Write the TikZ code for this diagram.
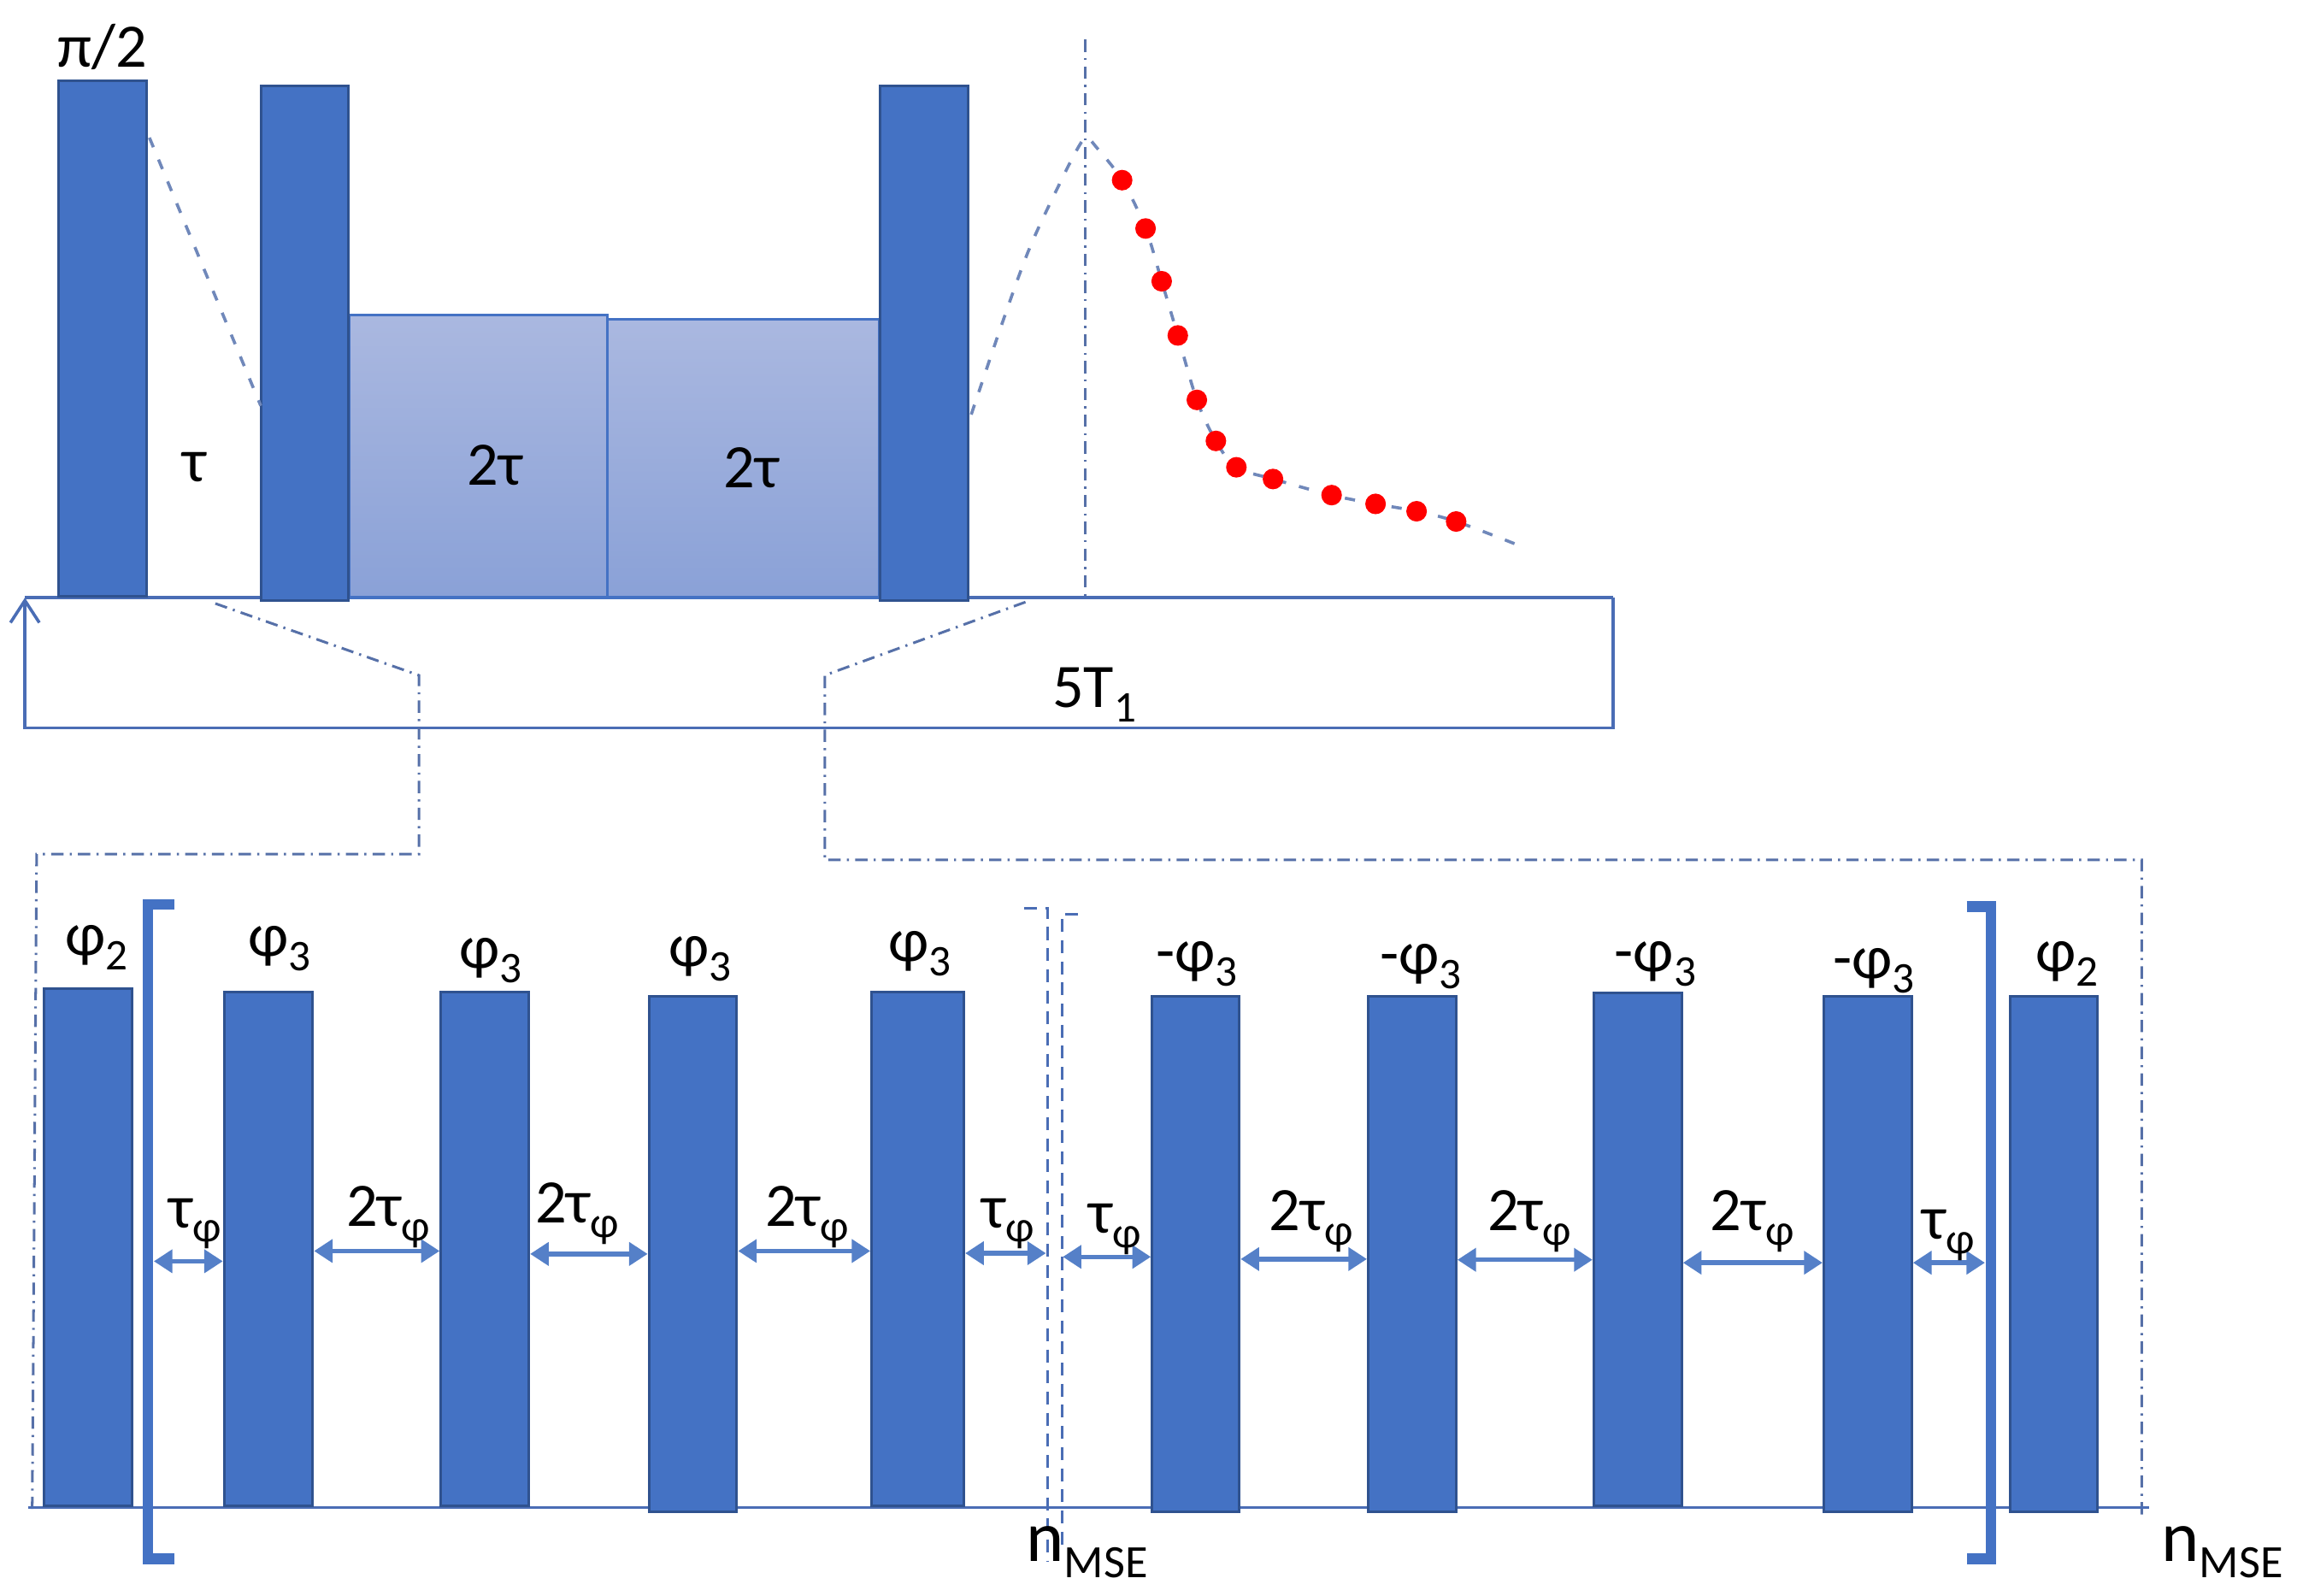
\documentclass[tikz,border=0pt]{standalone}
\usepackage{fontspec}
\setmainfont{Carlito}
\usetikzlibrary{arrows.meta,fit,calc}
\definecolor{pblue}{HTML}{4472C4}
\definecolor{pedge}{HTML}{2F528F}
\definecolor{ltop}{HTML}{AAB8E0}
\definecolor{lbot}{HTML}{8AA1D7}
\definecolor{dashc}{HTML}{7088BA}
\definecolor{ddc}{HTML}{5670A8}
\definecolor{arrc}{HTML}{5580C8}
\definecolor{framec}{HTML}{4A6DB5}
\newcommand\lsub[1]{\raisebox{-2.8pt}{\fontsize{8.5}{9}\selectfont #1}}
\newcommand\lsubb[1]{\raisebox{-3.1pt}{\fontsize{9}{10}\selectfont #1}}
\begin{document}
\begin{tikzpicture}[x=0.01cm,y=-0.01cm,
  pulse/.style={draw=pedge, fill=pblue, line width=0.5pt, inner sep=0pt},
  lightbox/.style={draw=pblue, line width=0.6pt, top color=ltop, bottom color=lbot, inner sep=0pt},
  lab/.style={font=\fontsize{12}{14}\selectfont, inner sep=0pt, anchor=base},
  biglab/.style={font=\fontsize{14}{16}\selectfont, inner sep=0pt, anchor=base},
  sig/.style={draw=dashc, line width=0.6pt, dash pattern=on 2pt off 2.6pt},
  zoomline/.style={draw=ddc, line width=0.5pt, dash pattern=on 2.4pt off 1.2pt on 0.4pt off 1.2pt},
  axisline/.style={draw=framec, line width=0.6pt},
  dim/.style={draw=arrc, line width=0.9pt, {Triangle[length=3.6pt,width=4.4pt]}-{Triangle[length=3.6pt,width=4.4pt]}},
  brk/.style={draw=pblue, line width=2.1pt, line join=miter, line cap=butt},
  sepline/.style={draw=framec, line width=0.55pt, dash pattern=on 2.5pt off 1.6pt},
]
\useasboundingbox (0,0) rectangle (1568,1089);

% ---------- top section ----------
\draw[axisline] (17,408) -- (1101,408);
\draw[axisline, -{Straight Barb[length=4.3pt,width=5.6pt]}] (1101,408) -- (1101,497) -- (17,497) -- (17,408);

\draw[zoomline] (741,27) -- (741,411);
\draw[zoomline] (147,412) -- (286,461) -- (286,583) -- (25,583) -- (22,1030);
\draw[zoomline] (700,411) -- (563,461) -- (563,587) -- (1462,587) -- (1462,1037);

\node[lightbox, fit={(238,215) (414.5,408)}] (b1) {};
\node[lightbox, fit={(414.5,218) (600.5,408)}] (b2) {};
\node[pulse, fit={(40,55) (100,407)}] (t0) {};
\node[pulse, fit={(178,58.5) (238,410)}] (t1) {};
\node[pulse, fit={(600.5,58.5) (661,410)}] (t2) {};

\draw[sig] (102,94) -- (178,277);
\draw[sig] plot[smooth, tension=0.55] coordinates {(663,283) (684,221) (703,169) (725,122) (737,99) (742,94) (748,100) (766,123) (782,156) (793,192) (804,229) (817,273) (830,301) (844,319) (869,327) (909,338) (939,344) (967,349) (994,356) (1036,372)};

\foreach \p in {(766,123),(782,156),(793,192),(804,229),(817,273),(830,301),(844,319),(869,327),(909,338),(939,344),(967,349),(994,356)}
  \fill[red] \p circle[radius=2pt];

\node[lab] (lpi) at (70,46) {π/2};
\node[lab] (ltau) at (133,329) {τ};
\node[lab] (l2ta) at (338,331) {2τ};
\node[lab] (l2tb) at (513,333) {2τ};
\node[lab] (l5t) at (747,483) {5T\lsub{1}};

% ---------- bottom section ----------
\draw[axisline] (19,1029) -- (1467,1029);

\draw[sepline] (699,620) -- (715,620) -- (715,1066);
\draw[sepline] (736,624) -- (725,624) -- (725,1058);

\draw[brk] (119,617.5) -- (101,617.5) -- (101,1064) -- (119,1064);
\draw[brk] (1342.5,619) -- (1359,619) -- (1359,1064) -- (1342.5,1064);

\coordinate (brL) at (105,0);
\coordinate (brR) at (1355,0);
\coordinate (sepL) at (714,0);
\coordinate (sepR) at (725.5,0);

\node[pulse, fit={(30,675) (90,1028)}] (q0) {};
\node[pulse, fit={(153,677) (213.5,1028)}] (q1) {};
\node[pulse, fit={(301,677) (361,1028)}] (q2) {};
\node[pulse, fit={(443,680) (503,1032)}] (q3) {};
\node[pulse, fit={(595,677) (658,1028)}] (q4) {};
\node[pulse, fit={(786.5,680) (846,1032)}] (r1) {};
\node[pulse, fit={(934,680) (994,1032)}] (r2) {};
\node[pulse, fit={(1088,678) (1148,1028)}] (r3) {};
\node[pulse, fit={(1245,680) (1305,1032)}] (r4) {};
\node[pulse, fit={(1372,680) (1432,1032)}] (q5) {};

\coordinate (y1) at (0,861);
\coordinate (y2) at (0,854);
\coordinate (y3) at (0,856);
\coordinate (y4) at (0,854);
\coordinate (y5) at (0,855.5);
\coordinate (y6) at (0,858);
\coordinate (y7) at (0,859.5);
\coordinate (y8) at (0,860);
\coordinate (y9) at (0,862);
\coordinate (y10) at (0,862);

\draw[dim] (brL |- y1) -- (q1.west |- y1);
\draw[dim] (q1.east |- y2) -- (q2.west |- y2);
\draw[dim] (q2.east |- y3) -- (q3.west |- y3);
\draw[dim] (q3.east |- y4) -- (q4.west |- y4);
\draw[dim] (q4.east |- y5) -- (sepL |- y5);
\draw[dim] (sepR |- y6) -- (r1.west |- y6);
\draw[dim] (r1.east |- y7) -- (r2.west |- y7);
\draw[dim] (r2.east |- y8) -- (r3.west |- y8);
\draw[dim] (r3.east |- y9) -- (r4.west |- y9);
\draw[dim] (r4.east |- y10) -- (brR |- y10);

\node[lab] (f0) at (66,652) {φ\lsub{2}};
\node[lab] (f1) at (191,653) {φ\lsub{3}};
\node[lab] (f2) at (335,661) {φ\lsub{3}};
\node[lab] (f3) at (478,660) {φ\lsub{3}};
\node[lab] (f4) at (628,656) {φ\lsub{3}};
\node[lab] (g1) at (817,663) {-φ\lsub{3}};
\node[lab] (g2) at (970,665) {-φ\lsub{3}};
\node[lab] (g3) at (1130,663) {-φ\lsub{3}};
\node[lab] (g4) at (1279,668) {-φ\lsub{3}};
\node[lab] (f5) at (1411,663) {φ\lsub{2}};

\node[lab] (d1) at (133,838) {τ\lsub{φ}};
\node[lab] (d2) at (265,837) {2τ\lsub{φ}};
\node[lab] (d3) at (394,835) {2τ\lsub{φ}};
\node[lab] (d4) at (551,837) {2τ\lsub{φ}};
\node[lab] (d5) at (688,838) {τ\lsub{φ}};
\node[lab] (d6) at (761,842) {τ\lsub{φ}};
\node[lab] (d7) at (895,840) {2τ\lsub{φ}};
\node[lab] (d8) at (1044,840) {2τ\lsub{φ}};
\node[lab] (d9) at (1196,840) {2τ\lsub{φ}};
\node[lab] (d10) at (1330,846) {τ\lsub{φ}};

\node[biglab] (n1) at (742,1066) {n\lsubb{MSE}};
\node[biglab] (n2) at (1517,1066) {n\lsubb{MSE}};
\end{tikzpicture}
\end{document}
